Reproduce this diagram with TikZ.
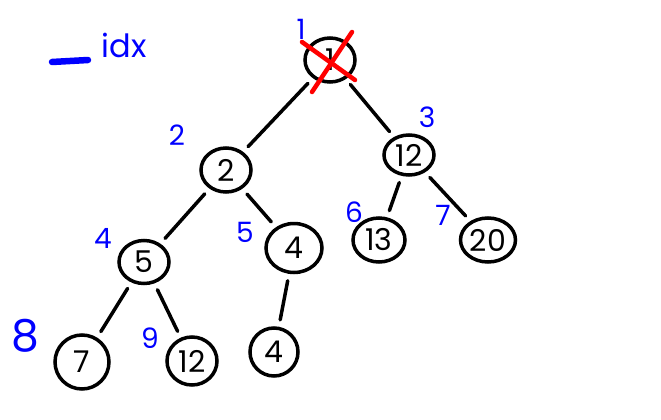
\documentclass[tikz,border=0pt]{standalone}
\usepackage{fontspec}
\setmainfont{Poppins}
\usetikzlibrary{shapes.geometric}
\begin{document}
\begin{tikzpicture}[x=1pt,y=-1pt,line cap=round,
  key/.style={draw,ellipse,line width=3.5pt,minimum width=50pt,minimum height=44pt,inner sep=0pt,font=\fontsize{30}{30}\selectfont},
  idx/.style={text=blue,inner sep=0pt,font=\fontsize{28}{28}\selectfont},
  link/.style={line width=3.5pt,shorten <=7pt,shorten >=7pt}]
  \useasboundingbox (0,0) rectangle (661,420);
  % legend
  \coordinate (L1) at (52,62);
  \coordinate (L2) at (88,60);
  \draw[blue,line width=6.5pt] (L1)--(L2);
  \node[idx,font=\fontsize{32}{32}\selectfont] (leg) at (124,45) {idx};
  % heap
  \node[key] (n1) at (330,60) {1};
  \node[key] (n2) at (226,170) {2};
  \node[key,minimum height=40pt] (n3) at (409,155) {12};
  \node[key,minimum height=43pt] (n4) at (144,262) {5};
  \node[key,minimum width=56pt,minimum height=49pt] (n5) at (294,248) {4};
  \node[key,minimum width=52pt] (n6) at (379,240) {13};
  \node[key,minimum width=55pt] (n7) at (488,240) {20};
  \node[key,minimum width=54pt,minimum height=54pt] (n8) at (82,362) {7};
  \node[key,minimum height=48pt] (n9) at (192,361) {12};
  \node[key,minimum width=48pt,minimum height=48pt] (n10) at (274,352) {4};
  \draw[link] (n1)--(n2);
  \draw[link] (n1)--(n3);
  \draw[link] (n2)--(n4);
  \draw[link] (n2)--(n5);
  \draw[link] (n3)--(n6);
  \draw[link] (n3)--(n7);
  \draw[link] (n4)--(n8);
  \draw[link] (n4)--(n9);
  \draw[link] (n5)--(n10);
  % indices
  \node[idx] (i1) at (301,29) {1};
  \node[idx] (i2) at (177,135) {2};
  \node[idx] (i3) at (427,117) {3};
  \node[idx] (i4) at (103,238) {4};
  \node[idx] (i5) at (245,232) {5};
  \node[idx] (i6) at (354,212) {6};
  \node[idx] (i7) at (443,215) {7};
  \node[idx,font=\fontsize{44}{44}\selectfont] (i8) at (25,336) {8};
  \node[idx] (i9) at (150,338) {9};
  % removed root
  \coordinate (X1) at (352,32);
  \coordinate (X2) at (312,92);
  \coordinate (X3) at (302,42);
  \coordinate (X4) at (355,80);
  \draw[red,line width=4.5pt] (X1)--(X2);
  \draw[red,line width=4.5pt] (X3)--(X4);
\end{tikzpicture}
\end{document}
